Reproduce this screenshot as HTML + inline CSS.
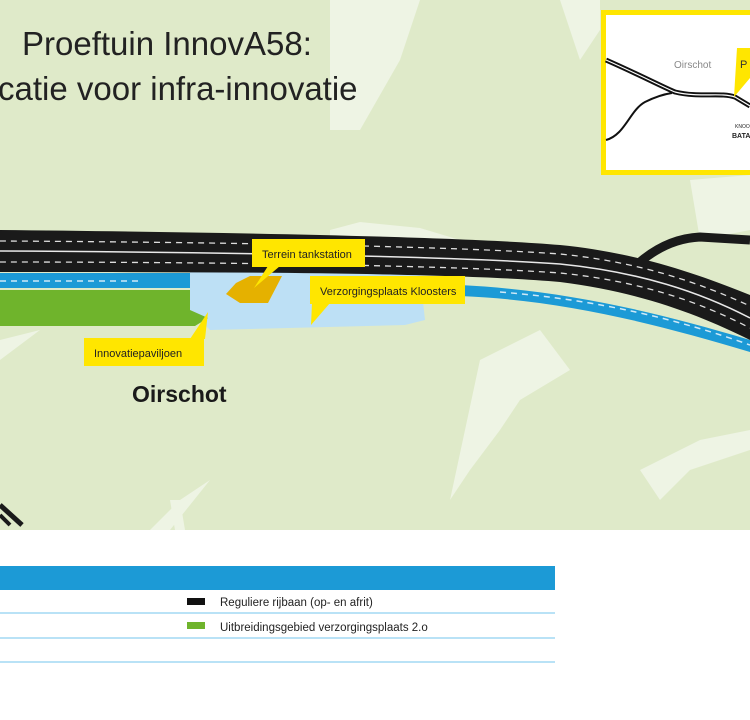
<!DOCTYPE html>
<html><head><meta charset="utf-8"><style>
body{margin:0;width:750px;height:715px;overflow:hidden;background:#fff;font-family:"Liberation Sans",sans-serif}
</style></head><body>
<svg width="750" height="715" viewBox="0 0 750 715" xmlns="http://www.w3.org/2000/svg" font-family="Liberation Sans, sans-serif">
<rect x="0" y="0" width="750" height="530" fill="#dfeac9"/>
<path d="M330 0 L420 0 L400 60 L360 130 L330 130 Z" fill="#eef4e4"/>
<path d="M560 0 L600 0 L600 30 L580 60 Z" fill="#eef4e4"/>
<path d="M330 230 L360 222 L420 228 L460 240 L440 250 L330 245 Z" fill="#eef4e4"/>
<path d="M690 180 L750 175 L750 230 L700 240 Z" fill="#eef4e4"/>
<path d="M0 340 L40 330 L0 360 Z" fill="#eef4e4"/>
<path d="M480 360 L540 330 L570 370 L520 400 L500 430 L470 470 L450 500 Z" fill="#eef4e4"/>
<path d="M150 530 L180 500 L210 480 L170 530 Z" fill="#eef4e4"/>
<path d="M170 500 L175 530 L185 530 L180 500 Z" fill="#eef4e4"/>
<path d="M640 470 L700 440 L750 430 L750 450 L690 470 L660 500 Z" fill="#eef4e4"/>
<text x="22" y="55" font-size="33" fill="#222">Proeftuin InnovA58:</text>
<text x="-2" y="100" font-size="33" fill="#222">catie voor infra-innovatie</text>
<path d="M190 270 L420 275 L425 320 L405 325 L210 330 L190 310 Z" fill="#bde0f5"/>
<path d="M0 290 L190 290 L190 310 L208 318 L195 326 L0 326 Z" fill="#6fb42c"/>
<path d="M0 273 L190 273 L190 288 L0 288 Z" fill="#1c9ad6"/>
<path d="M460 285 C560 290 650 310 750 340 L750 352 C650 322 560 300 460 296 Z" fill="#1c9ad6"/>
<line x1="0" y1="281" x2="140" y2="281" stroke="#cfe9f8" stroke-width="1.5" stroke-dasharray="6,5"/>
<path d="M500 292 C600 300 680 320 750 345" stroke="#cfe9f8" stroke-width="1.5" fill="none" stroke-dasharray="6,5"/>
<path d="M640 262 C660 245 680 238 700 237 L750 240" stroke="#1a1a1a" stroke-width="9" fill="none"/>
<path d="M0 230 C200 232 450 236 560 245 C640 253 700 275 750 295 L750 340 C700 315 640 292 560 282 C450 272 200 272 0 272 Z" fill="#1a1a1a"/>
<path d="M0 251 C200 252 450 256 560 264 C640 272 700 292 750 318" stroke="#e8e8e8" stroke-width="1.5" fill="none"/>
<path d="M0 241 C200 242 450 246 560 254 C640 262 700 283 750 306" stroke="#ddd" stroke-width="1.3" fill="none" stroke-dasharray="6,5"/>
<path d="M0 262 C200 262 450 265 560 273 C640 281 700 302 750 328" stroke="#ddd" stroke-width="1.3" fill="none" stroke-dasharray="6,5"/>
<path d="M236 283 L250 276 L282 276 L268 303 L240 303 L226 294 Z" fill="#e5b100"/>
<g font-size="11" fill="#222">
<rect x="252" y="239" width="113" height="28" fill="#ffe600"/>
<path d="M268 266 L280 266 L254 288 Z" fill="#ffe600"/>
<text x="262" y="258">Terrein tankstation</text>
<rect x="310" y="276" width="155" height="28" fill="#ffe600"/>
<path d="M312 303 L330 303 L311 325 Z" fill="#ffe600"/>
<text x="320" y="295">Verzorgingsplaats Kloosters</text>
<rect x="84" y="338" width="120" height="28" fill="#ffe600"/>
<path d="M190 339 L205 339 L208 312 Z" fill="#ffe600"/>
<text x="94" y="357">Innovatiepaviljoen</text>
</g>
<text x="132" y="402" font-size="23" font-weight="bold" fill="#1a1a1a">Oirschot</text>
<path d="M0 505 L22 525" stroke="#1a1a1a" stroke-width="5"/>
<path d="M0 515 L10 525" stroke="#1a1a1a" stroke-width="4"/>
<rect x="603.5" y="12.5" width="150" height="160" fill="#fff" stroke="#ffe600" stroke-width="5"/>
<path d="M606 60 C640 75 665 88 675 92 C700 98 720 92 735 97 L750 106" stroke="#111" stroke-width="5" fill="none"/>
<path d="M606 60 C640 75 665 88 675 92 C700 98 720 92 735 97 L750 106" stroke="#fff" stroke-width="1.2" fill="none"/>
<path d="M606 140 C625 135 630 110 645 102 C655 97 665 94 672 93" stroke="#111" stroke-width="2" fill="none"/>
<text x="674" y="68" font-size="10" fill="#888">Oirschot</text>
<path d="M737 48 L750 48 L750 78 L734 97 Z" fill="#ffe600"/>
<text x="740" y="68" font-size="11" fill="#333">P</text>
<text x="735" y="128" font-size="5" fill="#222">KNOO</text>
<text x="732" y="138" font-size="7" font-weight="bold" fill="#222">BATA</text>
<rect x="0" y="566" width="555" height="24" fill="#1c9ad6"/>
<line x1="0" y1="613" x2="555" y2="613" stroke="#8fd0f0" stroke-width="1.2"/>
<line x1="0" y1="638" x2="555" y2="638" stroke="#8fd0f0" stroke-width="1.2"/>
<line x1="0" y1="662" x2="555" y2="662" stroke="#8fd0f0" stroke-width="1.2"/>
<rect x="187" y="598" width="18" height="7" fill="#111"/>
<rect x="187" y="622" width="18" height="7" fill="#6fb42c"/>
<text x="220" y="606" font-size="11.5" fill="#222">Reguliere rijbaan (op- en afrit)</text>
<text x="220" y="631" font-size="11.5" fill="#222">Uitbreidingsgebied verzorgingsplaats 2.o</text>
</svg>
</body></html>
